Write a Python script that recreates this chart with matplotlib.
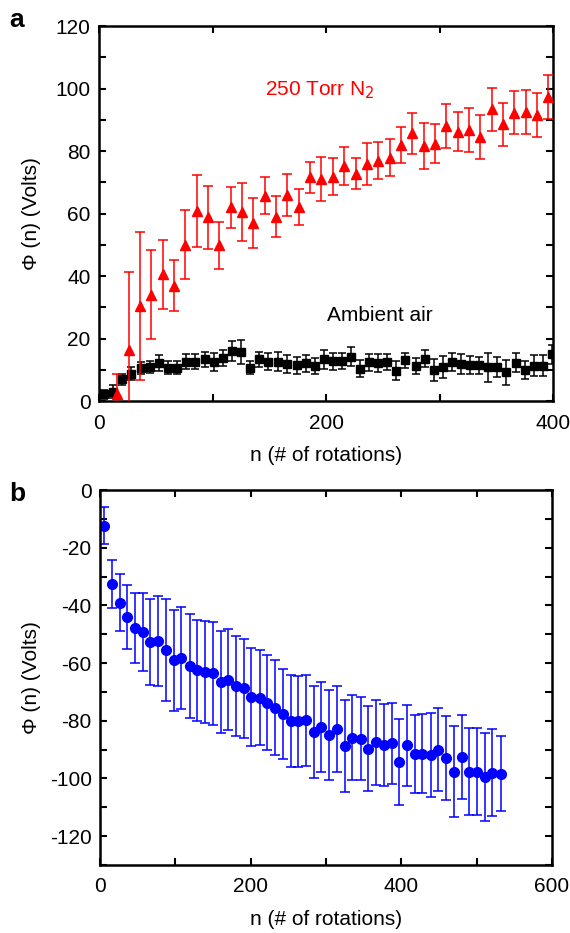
import matplotlib
matplotlib.use("Agg")
import matplotlib.pyplot as plt
from matplotlib.ticker import MultipleLocator

plt.rcParams['font.family'] = ['Liberation Sans', 'DejaVu Sans']
plt.rcParams['axes.unicode_minus'] = False

# ------------------ Datos panel a ------------------
n_aire = [4, 12, 20, 28, 37, 45, 53, 61, 69, 77, 85, 93, 101, 109, 117, 125, 133,
          141, 149, 158, 166, 174, 182, 190, 198, 206, 214, 222, 230, 238, 246, 254,
          262, 270, 279, 287, 295, 303, 311, 319, 327, 335, 343, 351, 359, 367, 375,
          383, 391, 399]
phi_aire = [2.1, 3.0, 6.9, 8.8, 10.7, 10.8, 12.1, 10.7, 10.7, 12.6, 12.6, 13.3, 12.6,
            13.8, 16.0, 15.6, 10.7, 13.3, 12.6, 12.6, 11.8, 11.4, 12.1, 11.2, 13.3,
            12.7, 12.8, 14.2, 10.4, 12.4, 12.2, 12.6, 9.7, 13.0, 11.2, 13.6, 9.9, 11.0,
            12.5, 12.0, 11.5, 11.4, 10.8, 11.0, 9.2, 12.3, 9.9, 11.3, 11.3, 15.0]
err_aire = [1.5, 2.0, 1.9, 2.1, 1.9, 1.9, 2.5, 2.0, 2.0, 2.5, 2.5, 2.3, 2.9, 2.5, 3.2,
            3.9, 2.2, 2.3, 2.7, 3.0, 2.8, 2.8, 2.7, 2.7, 2.9, 2.7, 2.6, 3.1, 2.6, 2.8,
            2.9, 2.6, 3.1, 2.5, 2.6, 2.8, 3.6, 3.5, 2.9, 3.2, 2.8, 2.7, 4.6, 3.2, 4.0,
            3.0, 2.8, 3.3, 3.3, 3.0]

n_n2 = [16, 26, 36, 46, 56, 66, 76, 86, 96, 106, 116, 126, 136, 146, 156, 166, 176,
        186, 196, 206, 216, 226, 236, 246, 256, 266, 276, 286, 296, 306, 316, 326,
        336, 346, 356, 366, 376, 386, 396]
phi_n2 = [2.1, 16.3, 30.4, 34.0, 40.6, 36.9, 50.0, 60.8, 58.8, 49.9, 62.0, 60.4, 56.9,
          65.7, 59.0, 65.9, 62.2, 71.6, 71.0, 71.8, 75.2, 72.8, 75.8, 76.9, 77.9, 81.9,
          85.7, 81.7, 82.4, 88.1, 86.2, 86.7, 84.6, 93.3, 88.5, 92.3, 92.4, 91.5, 97.2]
err_n2 = [6.7, 25.0, 23.6, 14.3, 11.0, 8.2, 11.0, 11.5, 10.0, 7.5, 6.5, 9.3, 8.0, 6.0,
          6.6, 6.7, 5.8, 5.0, 7.0, 6.0, 6.0, 5.0, 6.8, 6.0, 6.0, 5.8, 6.6, 7.3, 6.2, 7.0,
          6.3, 7.0, 7.0, 7.0, 7.0, 7.0, 7.0, 7.0, 7.0]

# ------------------ Datos panel b ------------------
n_b = [5, 16, 26, 36, 47, 57, 67, 77, 88, 98, 108, 119, 129, 139, 150, 160, 170, 181,
       191, 201, 212, 222, 232, 243, 253, 263, 274, 284, 294, 304, 315, 325, 335, 346,
       356, 366, 377, 387, 397, 408, 418, 428, 439, 449, 459, 470, 480, 490, 501, 511,
       521, 532]
phi_b = [-12.4, -32.6, -39.0, -44.0, -47.8, -49.3, -52.7, -52.5, -55.4, -59.0, -58.2,
         -60.9, -62.5, -63.1, -63.6, -66.6, -65.7, -68.0, -68.8, -71.7, -72.0, -73.8,
         -75.5, -77.5, -80.2, -80.2, -79.9, -83.9, -82.1, -85.1, -82.8, -88.8, -85.9,
         -86.2, -89.7, -87.4, -88.5, -87.8, -94.3, -88.5, -91.4, -91.4, -91.8, -90.0,
         -92.9, -97.6, -92.6, -97.6, -97.6, -99.6, -98.0, -98.3]
err_b = [6.4, 8.2, 10.0, 11.0, 12.2, 13.6, 15.0, 15.6, 17.6, 17.5, 17.6, 18.0, 17.5,
         17.8, 18.0, 17.6, 17.4, 17.4, 17.2, 17.0, 16.5, 16.5, 16.5, 15.6, 16.0, 15.7,
         15.9, 16.0, 15.7, 15.6, 15.0, 15.9, 14.7, 14.4, 14.8, 14.7, 14.2, 14.0, 15.0,
         14.0, 13.5, 13.8, 14.5, 14.3, 14.6, 15.9, 14.6, 15.0, 15.0, 15.3, 15.0, 13.0]

FS = 15


def estilo_ejes(ax, xmaj, xmin, ymaj, ymin):
    """Ticks hacia adentro en los cuatro lados, como el original."""
    ax.xaxis.set_major_locator(MultipleLocator(xmaj))
    ax.xaxis.set_minor_locator(MultipleLocator(xmin))
    ax.yaxis.set_major_locator(MultipleLocator(ymaj))
    ax.yaxis.set_minor_locator(MultipleLocator(ymin))
    ax.tick_params(which='both', direction='in', top=True, right=True,
                   width=1.5, labelsize=FS)
    ax.tick_params(axis='x', which='both', pad=9)
    ax.tick_params(axis='y', which='both', pad=6)
    ax.tick_params(which='major', length=5)
    ax.tick_params(which='minor', length=5)
    for s in ax.spines.values():
        s.set_linewidth(1.8)


fig = plt.figure(figsize=(5.7, 9.33), dpi=100)

# ------------------ Panel a ------------------
ax1 = fig.add_axes([0.1737, 0.5702, 0.7965, 0.4019])
ax1.errorbar(n_aire, phi_aire, yerr=err_aire, fmt='s', color='black', ms=5.5,
             ecolor='black', elinewidth=1.1, capsize=3, capthick=1.1, zorder=2)
ax1.errorbar(n_n2, phi_n2, yerr=err_n2, fmt='^', color='red', ms=7,
             ecolor='red', elinewidth=1.1, capsize=3.5, capthick=1.1, zorder=3)
ax1.set_xlim(0, 400)
ax1.set_ylim(0, 120)
estilo_ejes(ax1, 100, 100, 20, 10)
ax1.set_xticks([0, 200, 400])
ax1.set_xticks([100, 300], minor=True)
ax1.set_xlabel('n (# of rotations)', fontsize=FS, labelpad=10)
ax1.set_ylabel('Φ (n) (Volts)', fontsize=FS)
ax1.yaxis.set_label_coords(-0.128, 0.5)
ax1.text(146, 99.5, '250 Torr N$_2$', color='red', fontsize=FS, va='center', ha='left')
ax1.text(201, 27.3, 'Ambient air', color='black', fontsize=FS, va='center', ha='left')
fig.text(0.016, 0.979, 'a', fontsize=19, fontweight='bold', va='center')

# ------------------ Panel b ------------------
ax2 = fig.add_axes([0.1754, 0.0729, 0.793, 0.4019])
ax2.errorbar(n_b, phi_b, yerr=err_b, fmt='o', color='#0000ff', ms=7,
             ecolor='#0000ff', elinewidth=1.1, capsize=3.5, capthick=1.1)
ax2.set_xlim(0, 600)
ax2.set_ylim(-130, 0)
estilo_ejes(ax2, 200, 100, 20, 10)
ax2.set_xlabel('n (# of rotations)', fontsize=FS, labelpad=10)
ax2.set_ylabel('Φ (n) (Volts)', fontsize=FS)
ax2.yaxis.set_label_coords(-0.131, 0.5)
fig.text(0.016, 0.471, 'b', fontsize=19, fontweight='bold', va='center')

fig.savefig('out.png', dpi=100)
plt.close(fig)
